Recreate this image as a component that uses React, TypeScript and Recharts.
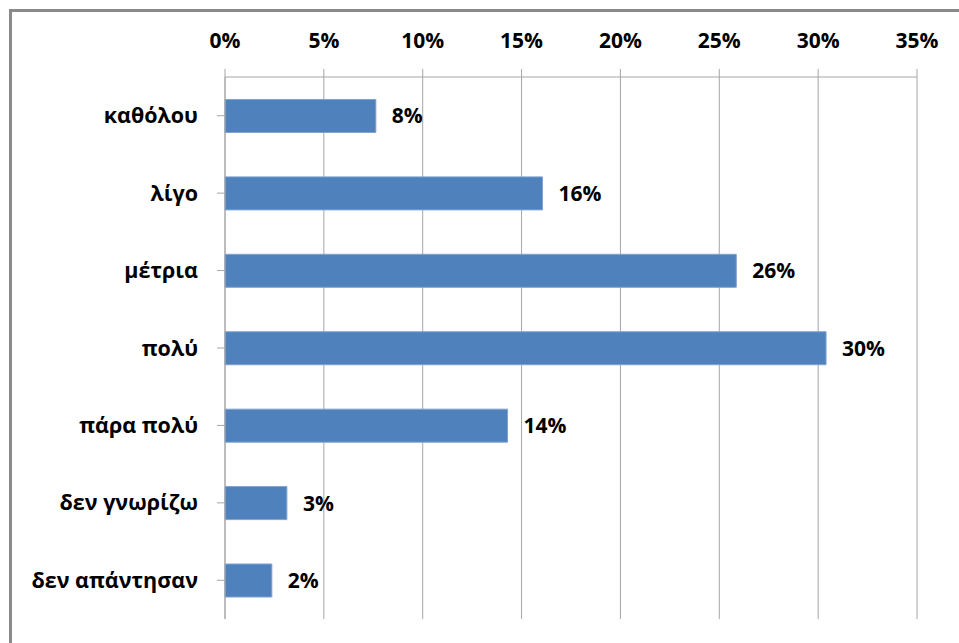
import { Bar, BarChart, CartesianGrid, LabelList, XAxis, YAxis } from "recharts";

const categories = ["καθόλου", "λίγο", "μέτρια", "πολύ", "πάρα πολύ", "δεν γνωρίζω", "δεν απάντησαν"];
const shares = [0.0763, 0.1606, 0.2586, 0.304, 0.1429, 0.0313, 0.0237];
const xTicks = [0, 0.05, 0.1, 0.15, 0.2, 0.25, 0.3, 0.35];

const data = categories.map((name, i) => ({ name, value: shares[i] }));

const pct = (v: number) => `${Math.round(v * 100)}%`;
const font = { fontFamily: "'Open Sans', 'Noto Sans', sans-serif", fontWeight: 700, fontSize: 21, fill: "#000" };

export default function App() {
  return (
    <div style={{ position: "fixed", left: 0, top: 0, width: 959, height: 643, background: "#fff", overflow: "hidden" }}>
      <div
        style={{
          position: "absolute",
          left: 9,
          top: 9,
          width: 980,
          height: 680,
          border: "3px solid #8a8a8a",
          boxSizing: "border-box",
        }}
      />
      <BarChart
        width={959}
        height={643}
        data={data}
        layout="vertical"
        barCategoryGap="29%"
        margin={{ top: 37, right: 42, bottom: 24, left: 0 }}
        style={{ position: "absolute", left: 0, top: 0 }}
      >
        <CartesianGrid horizontal={false} stroke="#a6a6a6" strokeWidth={1} />
        <XAxis
          type="number"
          orientation="top"
          domain={[0, 0.35]}
          ticks={xTicks}
          tickFormatter={pct}
          height={40}
          tickSize={8}
          tickMargin={21}
          stroke="#a6a6a6"
          tick={font}
          interval={0}
        />
        <YAxis
          type="category"
          dataKey="name"
          width={225}
          tickSize={8}
          tickMargin={19}
          stroke="#a6a6a6"
          tick={{ ...font, fontSize: 21.5 }}
          interval={0}
        />
        <Bar dataKey="value" fill="#4f81bd" stroke="#7ea3d1" strokeWidth={1} isAnimationActive={false}>
          <LabelList dataKey="value" position="right" offset={16} formatter={(v: any) => pct(Number(v))} style={font} />
        </Bar>
      </BarChart>
    </div>
  );
}
